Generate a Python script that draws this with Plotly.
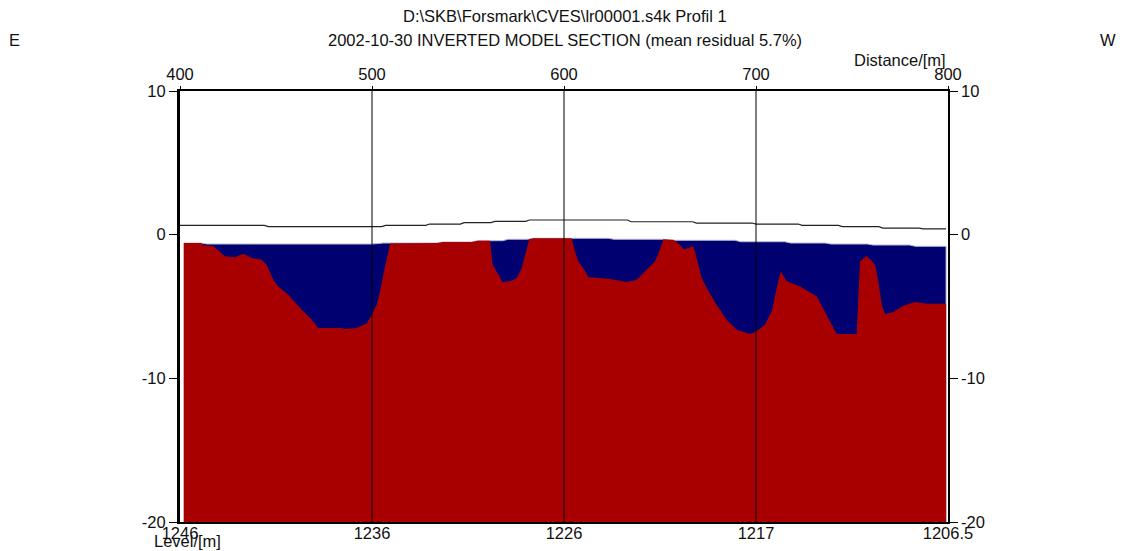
import plotly.graph_objects as go

# ---------------- data ----------------
distance_ticks = [400, 500, 600, 700, 800]
distance_labels = ["400", "500", "600", "700", "800"]
bottom_labels = ["1246", "1236", "1226", "1217", "1206.5"]
level_ticks = [-20, -10, 0, 10]
level_labels = ["-20", "-10", "0", "10"]
grid_distances = [500, 600, 700]

# ground surface (topography line)
topo_dist = [400, 444, 446, 505, 507, 528, 530, 546, 548, 562, 564, 580, 582, 633,
             635, 667, 669, 698, 700, 722, 724, 743, 745, 764, 766, 785, 787, 799]
topo_level = [0.65, 0.65, 0.56, 0.56, 0.65, 0.65, 0.74, 0.74, 0.84, 0.84, 0.93, 0.93, 1.02, 1.02,
              0.90, 0.90, 0.81, 0.81, 0.74, 0.74, 0.65, 0.65, 0.56, 0.56, 0.46, 0.46, 0.40, 0.40]

# top of inverted model section
model_top_dist = [402, 411, 414, 500, 506, 534, 537, 552, 555, 568, 571, 581, 584, 623,
                  626, 652, 655, 689, 692, 715, 718, 736, 739, 758, 761, 780, 783, 799]
model_top_level = [-0.58, -0.58, -0.65, -0.65, -0.58, -0.58, -0.51, -0.51, -0.42, -0.42, -0.32, -0.32, -0.25, -0.25,
                   -0.32, -0.32, -0.39, -0.39, -0.49, -0.49, -0.58, -0.58, -0.65, -0.65, -0.72, -0.72, -0.81, -0.81]
model_bottom = -20

# boundary between low-resistivity (blue) layer and high-resistivity (red) body
interface_dist = [402, 411, 412.2, 417.4, 420, 423.4, 428.6, 433, 437.3, 442.5, 445.1, 448.6, 451.2,
                  456.4, 463.4, 468.6, 472, 484.2, 486, 492, 497.2, 499.8, 502.4, 504.2, 505.9,
                  507.6, 509.4, 534, 537, 552, 555, 561.5, 562.8, 565.8, 568, 572.8, 575.4, 578,
                  579.7, 581.9, 584, 604, 605.7, 607.5, 610, 612.7, 618.8, 624, 632.7, 637.9,
                  642.2, 647.4, 650, 651.7, 657, 660.4, 662.5, 667.4, 669.1, 671.7, 674.3, 679.5,
                  684.7, 690, 696.9, 700.3, 704.7, 708.2, 710.8, 712.9, 716, 722.9, 731.6, 736.8,
                  742, 752.4, 754.2, 757.6, 762, 763.7, 765.5, 767.2, 771.5, 776.7, 782.8, 788.9, 799]
interface_level = [-0.58, -0.58, -0.74, -0.81, -1.11, -1.51, -1.58, -1.32, -1.62, -1.74, -2.09, -3.13, -3.6,
                   -4.18, -5.22, -5.92, -6.5, -6.5, -6.57, -6.5, -6.19, -5.6, -4.87, -3.94, -2.78,
                   -1.62, -0.62, -0.58, -0.51, -0.51, -0.42, -0.42, -2.09, -2.78, -3.32, -3.2, -3.02, -2.32,
                   -1.39, -0.32, -0.25, -0.25, -1.16, -1.86, -2.32, -2.97, -3.02, -3.09, -3.3, -3.13,
                   -2.55, -1.86, -1.04, -0.32, -0.35, -0.7, -1.04, -0.81, -1.62, -3.02, -3.71, -4.87,
                   -5.92, -6.61, -6.91, -6.73, -6.26, -5.33, -3.71, -2.55, -3.25, -3.6, -4.29, -5.57,
                   -6.91, -6.91, -1.86, -1.46, -2.09, -3.25, -4.87, -5.52, -5.38, -4.94, -4.69, -4.8, -4.8]

# ---------------- figure ----------------
FONT = "Liberation Sans, Arial, sans-serif"
FS = 16.5
BLUE = "#000070"
RED = "#A80000"

fig = go.Figure()

# blue layer: whole model section
fig.add_trace(go.Scatter(
    x=model_top_dist + [model_top_dist[-1], model_top_dist[0]],
    y=model_top_level + [model_bottom, model_bottom],
    fill="toself", fillcolor=BLUE, mode="lines",
    line=dict(color="#B8B8D0", width=1), hoverinfo="skip", showlegend=False))

# red body: below interface
fig.add_trace(go.Scatter(
    x=interface_dist + [interface_dist[-1], interface_dist[0]],
    y=interface_level + [model_bottom, model_bottom],
    fill="toself", fillcolor=RED, mode="lines",
    line=dict(color=RED, width=0), hoverinfo="skip", showlegend=False))

# topography line (on the top/right axes so they are drawn)
fig.add_trace(go.Scatter(
    x=topo_dist, y=topo_level, mode="lines", xaxis="x2", yaxis="y2",
    line=dict(color="#222222", width=1.2), hoverinfo="skip", showlegend=False))

for d in grid_distances:
    fig.add_shape(type="line", xref="x", yref="y", x0=d, x1=d, y0=-20, y1=10,
                  line=dict(color="black", width=1), layer="above")

axis_font = dict(family=FONT, size=FS, color="#111111")

# page body has an 8px default margin -> compensate in the figure margins
fig.update_layout(
    width=1128, height=551,
    margin=dict(l=172, r=188, t=83, b=37, autoexpand=False),
    paper_bgcolor="white", plot_bgcolor="white",
    font=dict(family=FONT, size=FS, color="#111111"),
    xaxis=dict(range=[400, 800], tickvals=distance_ticks, ticktext=bottom_labels,
               showgrid=False, zeroline=False, showline=True, linecolor="black", linewidth=1.5,
               ticks="", tickfont=axis_font, fixedrange=True, automargin=False,
               ticklabelstandoff=-5),
    xaxis2=dict(range=[400, 800], overlaying="x", side="top", tickvals=distance_ticks,
                ticktext=distance_labels, showgrid=False, zeroline=False, showline=True,
                linecolor="black", linewidth=1.5, ticks="outside", ticklen=3, tickcolor="black",
                tickfont=axis_font, fixedrange=True, automargin=False),
    yaxis=dict(range=[-20, 10], tickvals=level_ticks, ticktext=level_labels,
               showgrid=False, zeroline=False, showline=True, linecolor="black", linewidth=3,
               ticks="outside", ticklen=8, tickcolor="black", tickfont=axis_font,
               fixedrange=True, automargin=False),
    yaxis2=dict(range=[-20, 10], overlaying="y", side="right", tickvals=level_ticks,
                ticktext=level_labels, showgrid=False, zeroline=False, showline=True,
                linecolor="black", linewidth=1.5, ticks="outside", ticklen=8, tickcolor="black",
                tickfont=axis_font, fixedrange=True, automargin=False),
)

def px_x(p):
    return (p - 180) / 768.0

def px_y(p):
    return (522 - p) / 431.0

ann = [
    (r"D:\SKB\Forsmark\CVES\lr00001.s4k Profil 1", 565, 16, "center"),
    ("2002-10-30 INVERTED MODEL SECTION (mean residual 5.7%)", 565, 40, "center"),
    ("E", 14, 40, "center"),
    ("W", 1108, 40, "center"),
    ("Distance/[m]", 947, 60, "right"),
    ("Level/[m]", 153, 541, "left"),
]
for text, x, y, anchor in ann:
    fig.add_annotation(text=text, xref="paper", yref="paper", x=px_x(x), y=px_y(y),
                       xanchor=anchor, yanchor="middle", showarrow=False, borderpad=0,
                       font=dict(family=FONT, size=FS, color="#111111"))

fig.write_html("out.html")
